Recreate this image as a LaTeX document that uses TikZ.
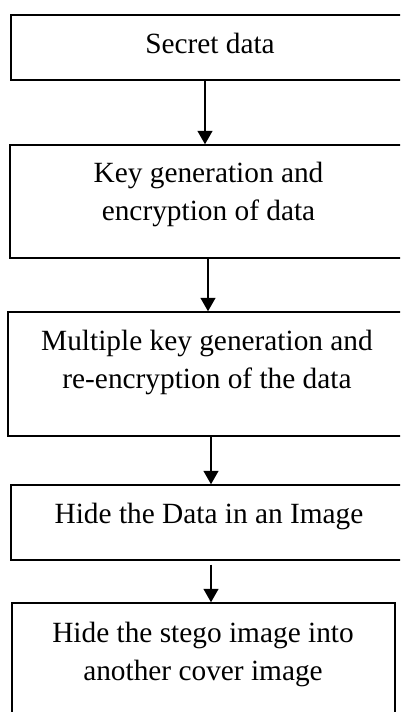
\documentclass[tikz,border=0pt]{standalone}
\usepackage{fontspec}
\setmainfont{Liberation Serif}
\usetikzlibrary{arrows.meta}
\begin{document}
\begin{tikzpicture}[x=0.75pt,y=-0.75pt,
  box/.style={draw=black,line width=1.1pt,rectangle,inner sep=0pt},
  txt/.style={inner sep=0pt,align=center,font=\fontsize{22}{28.5}\selectfont,anchor=base},
  arr/.style={line width=1.5pt,-{Triangle[length=10pt,width=11pt]}}]
\useasboundingbox (0,0) rectangle (400,712);
\clip (0,0) rectangle (400,712);
\node[box,minimum width=295.5pt,minimum height=48.75pt] (b1) at (208,47.5) {};
\node[box,minimum width=296.25pt,minimum height=84.75pt] (b2) at (207.5,201.5) {};
\node[box,minimum width=297.75pt,minimum height=93pt] (b3) at (206.5,374) {};
\node[box,minimum width=295.5pt,minimum height=56.25pt] (b4) at (208,522.5) {};
\node[box,minimum width=287.25pt,minimum height=87.75pt] (b5) at (203.5,661.5) {};
\node[txt] (t1) at (210,54) {Secret data};
\node[txt] (t2) at (208.5,221) {Key generation and\\encryption of data};
\node[txt] (t3) at (207,388) {Multiple key generation and\\re-encryption of the data};
\node[txt] (t4) at (209,523) {Hide the Data in an Image};
\node[txt] (t5) at (203,680) {Hide the stego image into\\another cover image};
\coordinate (x1) at (205,0);
\coordinate (x2) at (208,0);
\coordinate (x3) at (211,0);
\coordinate (x4) at (211,0);
\draw[arr] (b1.south -| x1) -- (b2.north -| x1);
\draw[arr] (b2.south -| x2) -- (b3.north -| x2);
\draw[arr] (b3.south -| x3) -- (b4.north -| x3);
\draw[arr] ([yshift=-3pt]b4.south -| x4) -- (b5.north -| x4);
\end{tikzpicture}
\end{document}
